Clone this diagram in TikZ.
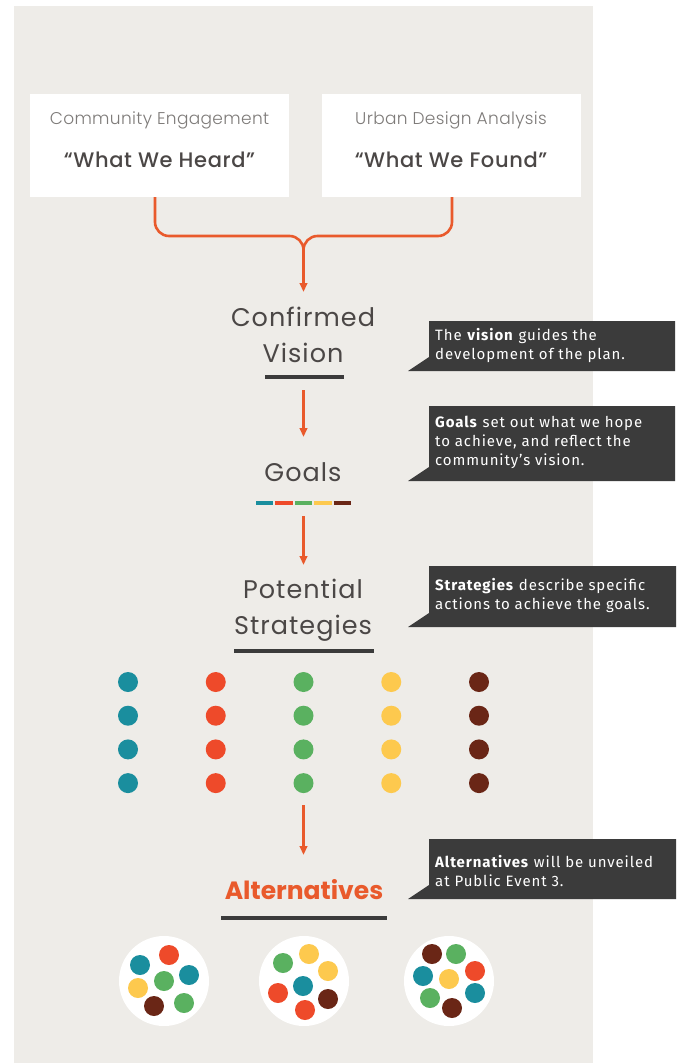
\documentclass[tikz,border=0pt]{standalone}
\usepackage{fontspec}
\setmainfont{Poppins}
\newfontfamily\headfont{Poppins}[LetterSpace=4]
\newfontfamily\callfont{Fira Sans}[LetterSpace=6]
\newfontfamily\lightfont{Poppins Light}[LetterSpace=2]
\newfontfamily\medfont{Poppins Medium}[LetterSpace=3]
\usetikzlibrary{arrows.meta}
\definecolor{bg}{HTML}{EEECE8}
\definecolor{org}{HTML}{E95A2C}
\definecolor{dk}{HTML}{3B3B3B}
\definecolor{txt}{HTML}{4B4746}
\definecolor{lt}{HTML}{7E7B79}
\definecolor{cteal}{HTML}{1A8E9E}
\definecolor{cred}{HTML}{EE4A2A}
\definecolor{cgreen}{HTML}{5AB160}
\definecolor{cyel}{HTML}{FDC94E}
\definecolor{cbrn}{HTML}{6A2616}
\tikzset{
  srcbox/.style={fill=white, draw=none, minimum width=259pt, minimum height=103pt, inner sep=0pt},
  lightlbl/.style={font=\lightfont\fontsize{17}{18}\selectfont, text=lt, inner sep=0pt},
  quotelbl/.style={font=\medfont\fontsize{21}{22}\selectfont, text=txt, inner sep=0pt},
  head/.style={font=\headfont\fontsize{25.5}{36}\selectfont, text=txt, align=center, inner sep=0pt},
  conn/.style={draw=org, line width=2.6pt},
  arr/.style={draw=org, line width=2.6pt, -{Triangle[length=9pt,width=7.5pt]}},
  uline/.style={draw=dk, line width=3.2pt},
  callbox/.style={fill=dk},
  calltxt/.style={font=\callfont\fontsize{15}{19}\selectfont, text=white, align=left, anchor=west, inner sep=0pt},
  dot/.style={circle, minimum size=20pt, inner sep=0pt, draw=none},
  plate/.style={circle, fill=white, minimum size=90pt, inner sep=0pt}
}
\begin{document}
\begin{tikzpicture}[x=1pt,y=-1pt]
\useasboundingbox (0,0) rectangle (682,1063);
\fill[white] (0,0) rectangle (682,1063);
\fill[bg] (14,6) rectangle (593,1063);

% source boxes
\node[srcbox] (ce) at (159.5,145.5) {};
\node[srcbox] (uda) at (451,145.5) {};
\node[lightlbl] (ceT) at (159.5,120) {Community Engagement};
\node[quotelbl] (ceQ) at (159.5,160) {“What We Heard”};
\node[lightlbl] (udaT) at (451,120) {Urban Design Analysis};
\node[quotelbl] (udaQ) at (451,160) {“What We Found”};

% headings
\node[head] (cv) at (303,335) {Confirmed\\Vision};
\node[head] (goals) at (303,472) {Goals};
\node[head] (ps) at (303,610.5) {Potential\\Strategies};
\node[font=\bfseries\fontsize{25}{30}\selectfont, text=org, inner sep=0pt] (alt) at (304,890) {Alternatives};

% merge connector
\coordinate (ceS) at (155,197);
\coordinate (udaS) at (452,197);
\coordinate (m) at (303.5,236);
\coordinate (t1) at (303.5,292);
\draw[conn, rounded corners=14] (ceS) |- (m) -- (303.5,262);
\draw[conn, rounded corners=14] (udaS) |- (m) -- (303.5,262);
\draw[arr] (303.5,258) -- (t1);

% underlines
\draw[uline] (265,377) -- (344,377);
\draw[uline] (234,651) -- (374,651);
\draw[uline] (221,918) -- (387,918);
% goals colour bar
\foreach \c [count=\i from 0] in {cteal,cred,cgreen,cyel,cbrn}{
  \draw[draw=\c, line width=3.6pt] (256+\i*19.4,503) -- (256+\i*19.4+17.4,503);
}

% arrows between stages
\coordinate (a1s) at (303.5,390); \coordinate (a1e) at (303.5,437);
\coordinate (a2s) at (303.5,516); \coordinate (a2e) at (303.5,565);
\coordinate (a3s) at (303.5,805); \coordinate (a3e) at (303.5,855);
\draw[arr] (a1s) -- (a1e);
\draw[arr] (a2s) -- (a2e);
\draw[arr] (a3s) -- (a3e);

% callouts
\fill[callbox] (429,321) -- (675,321) -- (675,371) -- (408,371) -- (429,357) -- cycle;
\node[calltxt] (c1) at (435,346) {The \textbf{vision} guides the\\development of the plan.};
\fill[callbox] (429,406) -- (675,406) -- (675,481) -- (408,481) -- (429,467) -- cycle;
\node[calltxt] (c2) at (435,442) {\textbf{Goals} set out what we hope\\to achieve, and reflect the\\community’s vision.};
\fill[callbox] (429,566) -- (676,566) -- (676,627) -- (408,627) -- (429,613) -- cycle;
\node[calltxt] (c3) at (435,596) {\textbf{Strategies} describe specific\\actions to achieve the goals.};
\fill[callbox] (429,839) -- (676,839) -- (676,899) -- (408,899) -- (429,885) -- cycle;
\node[calltxt] (c4) at (435,871) {\textbf{Alternatives} will be unveiled\\at Public Event 3.};

% dot grid
\foreach \c [count=\i from 0] in {cteal,cred,cgreen,cyel,cbrn}{
  \foreach \r in {0,1,2,3}{
    \node[dot, fill=\c] (d\i\r) at (128+\i*87.75,682+\r*33.7) {};
  }
}

% plates
\node[plate] (p1) at (164,981) {};
\node[plate] (p2) at (304,981) {};
\node[plate] (p3) at (449,981) {};
\foreach \c/\dx/\dy [count=\k] in {cteal/-24/-16, cred/5/-26, cteal/25/-6, cgreen/0/0, cyel/-26/7, cbrn/-10/25, cgreen/20/22}{
  \node[dot, fill=\c] (pa\k) at (164+\dx,981+\dy) {};
}
\foreach \c/\dx/\dy [count=\k] in {cgreen/-21/-18, cyel/5/-27, cyel/24/-10, cteal/-1/5, cred/-26/12, cbrn/24/18, cred/1/29}{
  \node[dot, fill=\c] (pb\k) at (304+\dx,981+\dy) {};
}
\foreach \c/\dx/\dy [count=\k] in {cbrn/-17/-27, cgreen/7/-27, cteal/-26/-5, cred/26/-10, cyel/0/-2, cteal/26/12, cgreen/-19/17, cbrn/3/27}{
  \node[dot, fill=\c] (pc\k) at (449+\dx,981+\dy) {};
}
\end{tikzpicture}
\end{document}
